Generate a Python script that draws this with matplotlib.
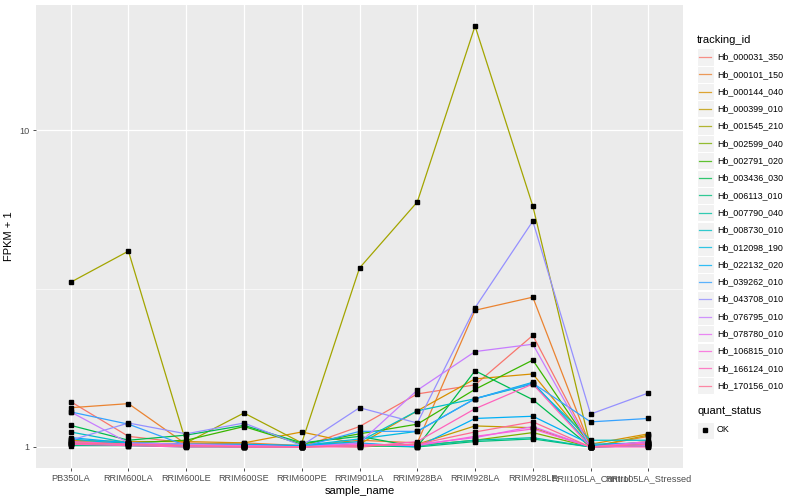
import numpy as np
import matplotlib
matplotlib.use("Agg")
import matplotlib.pyplot as plt
from matplotlib.patches import Rectangle
from matplotlib.lines import Line2D

plt.rcParams['font.family'] = ['Liberation Sans', 'DejaVu Sans']

samples = ['PB350LA', 'RRIM600LA', 'RRIM600LE', 'RRIM600SE', 'RRIM600PE', 'RRIM901LA',
           'RRIM928BA', 'RRIM928LA', 'RRIM928LE', 'RRII105LA_Control', 'RRII105LA_Stressed']

ids = ['Hb_000031_350', 'Hb_000101_150', 'Hb_000144_040', 'Hb_000399_010', 'Hb_001545_210',
       'Hb_002599_040', 'Hb_002791_020', 'Hb_003436_030', 'Hb_006113_010', 'Hb_007790_040',
       'Hb_008730_010', 'Hb_012098_190', 'Hb_022132_020', 'Hb_039262_010', 'Hb_043708_010',
       'Hb_076795_010', 'Hb_078780_010', 'Hb_106815_010', 'Hb_166124_010', 'Hb_170156_010']

colors = ['#F8766D', '#EA8331', '#D89000', '#C09B00', '#A3A500', '#7CAE00', '#39B600',
          '#00BB4E', '#00BF7D', '#00C1A3', '#00BFC4', '#00BAE0', '#00B0F6', '#35A2FF',
          '#9590FF', '#C77CFF', '#E76BF3', '#FA62DB', '#FF62BC', '#FF6C91']

# FPKM per gene, one value per sample
fpkm = {
    'Hb_000031_350': [0.39, 0.08, 0.03, 0.02, 0.00, 0.16, 0.47, 0.57, 1.25, 0.01, 0.03],
    'Hb_000101_150': [0.33, 0.37, 0.02, 0.03, 0.01, 0.05, 0.03, 1.70, 1.97, 0.00, 0.08],
    'Hb_000144_040': [0.05, 0.04, 0.04, 0.03, 0.115, 0.02, 0.30, 0.64, 0.70, 0.02, 0.10],
    'Hb_000399_010': [0.02, 0.03, 0.01, 0.01, 0.01, 0.00, 0.02, 0.165, 0.15, 0.00, 0.09],
    'Hb_001545_210': [2.31, 3.15, 0.03, 0.28, 0.03, 2.67, 4.93, 20.3, 4.76, 0.00, 0.04],
    'Hb_002599_040': [0.04, 0.03, 0.02, 0.01, 0.01, 0.02, 0.01, 0.05, 0.11, 0.00, 0.02],
    'Hb_002791_020': [0.02, 0.03, 0.05, 0.16, 0.02, 0.10, 0.18, 0.52, 0.88, 0.01, 0.02],
    'Hb_003436_030': [0.17, 0.05, 0.09, 0.17, 0.03, 0.08, 0.00, 0.74, 0.41, 0.00, 0.01],
    'Hb_006113_010': [0.01, 0.01, 0.00, 0.00, 0.00, 0.01, 0.00, 0.04, 0.06, 0.00, 0.01],
    'Hb_007790_040': [0.02, 0.01, 0.01, 0.00, 0.00, 0.02, 0.01, 0.05, 0.07, 0.00, 0.01],
    'Hb_008730_010': [0.115, 0.03, 0.02, 0.01, 0.01, 0.04, 0.30, 0.42, 0.58, 0.05, 0.05],
    'Hb_012098_190': [0.06, 0.02, 0.01, 0.01, 0.01, 0.06, 0.12, 0.42, 0.60, 0.01, 0.02],
    'Hb_022132_020': [0.07, 0.03, 0.02, 0.02, 0.01, 0.03, 0.00, 0.23, 0.25, 0.02, 0.03],
    'Hb_039262_010': [0.29, 0.18, 0.01, 0.00, 0.00, 0.12, 0.12, 0.42, 0.59, 0.20, 0.23],
    'Hb_043708_010': [0.05, 0.19, 0.10, 0.19, 0.01, 0.33, 0.19, 1.75, 4.16, 0.27, 0.48],
    'Hb_076795_010': [0.29, 0.03, 0.02, 0.01, 0.00, 0.03, 0.51, 1.00, 1.11, 0.00, 0.01],
    'Hb_078780_010': [0.03, 0.02, 0.01, 0.00, 0.00, 0.01, 0.02, 0.07, 0.16, 0.00, 0.04],
    'Hb_106815_010': [0.04, 0.02, 0.01, 0.01, 0.00, 0.02, 0.01, 0.08, 0.14, 0.00, 0.03],
    'Hb_166124_010': [0.02, 0.01, 0.00, 0.00, 0.00, 0.00, 0.04, 0.32, 0.58, 0.00, 0.00],
    'Hb_170156_010': [0.03, 0.02, 0.01, 0.00, 0.00, 0.01, 0.02, 0.115, 0.20, 0.00, 0.02],
}

W, H = 800, 500
fig = plt.figure(figsize=(8, 5), dpi=100)
ax = fig.add_axes([36 / W, 32 / H, 647 / W, 463 / H])
ax.set_facecolor('#EBEBEB')

x = np.arange(len(samples))
for gid, col in zip(ids, colors):
    ax.plot(x, np.array(fpkm[gid]) + 1, color=col, lw=0.9, zorder=2)
for gid in ids:
    ax.plot(x, np.array(fpkm[gid]) + 1, ls='none', marker='s', ms=2.3, color='black', zorder=3)

ax.set_yscale('log')
allv = np.log10(np.concatenate([np.array(v) + 1 for v in fpkm.values()]))
lo, hi = allv.min(), allv.max()
pad = 0.05 * (hi - lo)
ax.set_ylim(10 ** (lo - pad), 10 ** (hi + pad))
ax.set_xlim(-0.6, len(samples) - 0.4)

ax.set_yticks([1, 10])
ax.set_yticklabels(['1', '10'])
ax.set_yticks([10 ** 0.5], minor=True)
ax.yaxis.set_minor_formatter(matplotlib.ticker.NullFormatter())
ax.set_xticks(x)
ax.set_xticklabels(samples)
ax.grid(which='major', color='white', lw=0.9)
ax.grid(which='minor', axis='y', color='white', lw=0.45)
ax.set_axisbelow(True)
for s in ax.spines.values():
    s.set_visible(False)
ax.tick_params(which='major', length=2.5, width=0.6, color='#333333', labelsize=6.6,
               labelcolor='#4D4D4D', pad=2)
ax.tick_params(which='minor', length=0)
ax.set_xlabel('sample_name', fontsize=8, labelpad=2)
ax.set_ylabel('FPKM + 1', fontsize=8, labelpad=4)

# legend: tracking_id
fig.text(697 / W, 1 - 40 / H, 'tracking_id', fontsize=8, va='center', ha='left')
for i, (gid, col) in enumerate(zip(ids, colors)):
    yc = 57 + i * 17.3
    fig.patches.append(Rectangle((697 / W, 1 - (yc + 8.5) / H), 17 / W, 17 / H,
                                 transform=fig.transFigure, facecolor='#F2F2F2',
                                 edgecolor='white', lw=0.8))
    fig.lines.append(Line2D([699 / W, 711 / W], [1 - yc / H, 1 - yc / H],
                            transform=fig.transFigure, color=col, lw=0.9, alpha=0.8))
    fig.text(717 / W, 1 - yc / H, gid, fontsize=6.4, va='center', ha='left')

# legend: quant_status
fig.text(697 / W, 1 - 411 / H, 'quant_status', fontsize=8, va='center', ha='left')
fig.patches.append(Rectangle((697 / W, 1 - (430 + 8.5) / H), 17 / W, 17 / H,
                             transform=fig.transFigure, facecolor='#F2F2F2',
                             edgecolor='white', lw=0.8))
fig.lines.append(Line2D([705 / W], [1 - 430 / H], transform=fig.transFigure,
                        marker='s', ms=2.3, color='black', ls='none'))
fig.text(717 / W, 1 - 430 / H, 'OK', fontsize=6.4, va='center', ha='left')

fig.savefig('out.png', dpi=100)
